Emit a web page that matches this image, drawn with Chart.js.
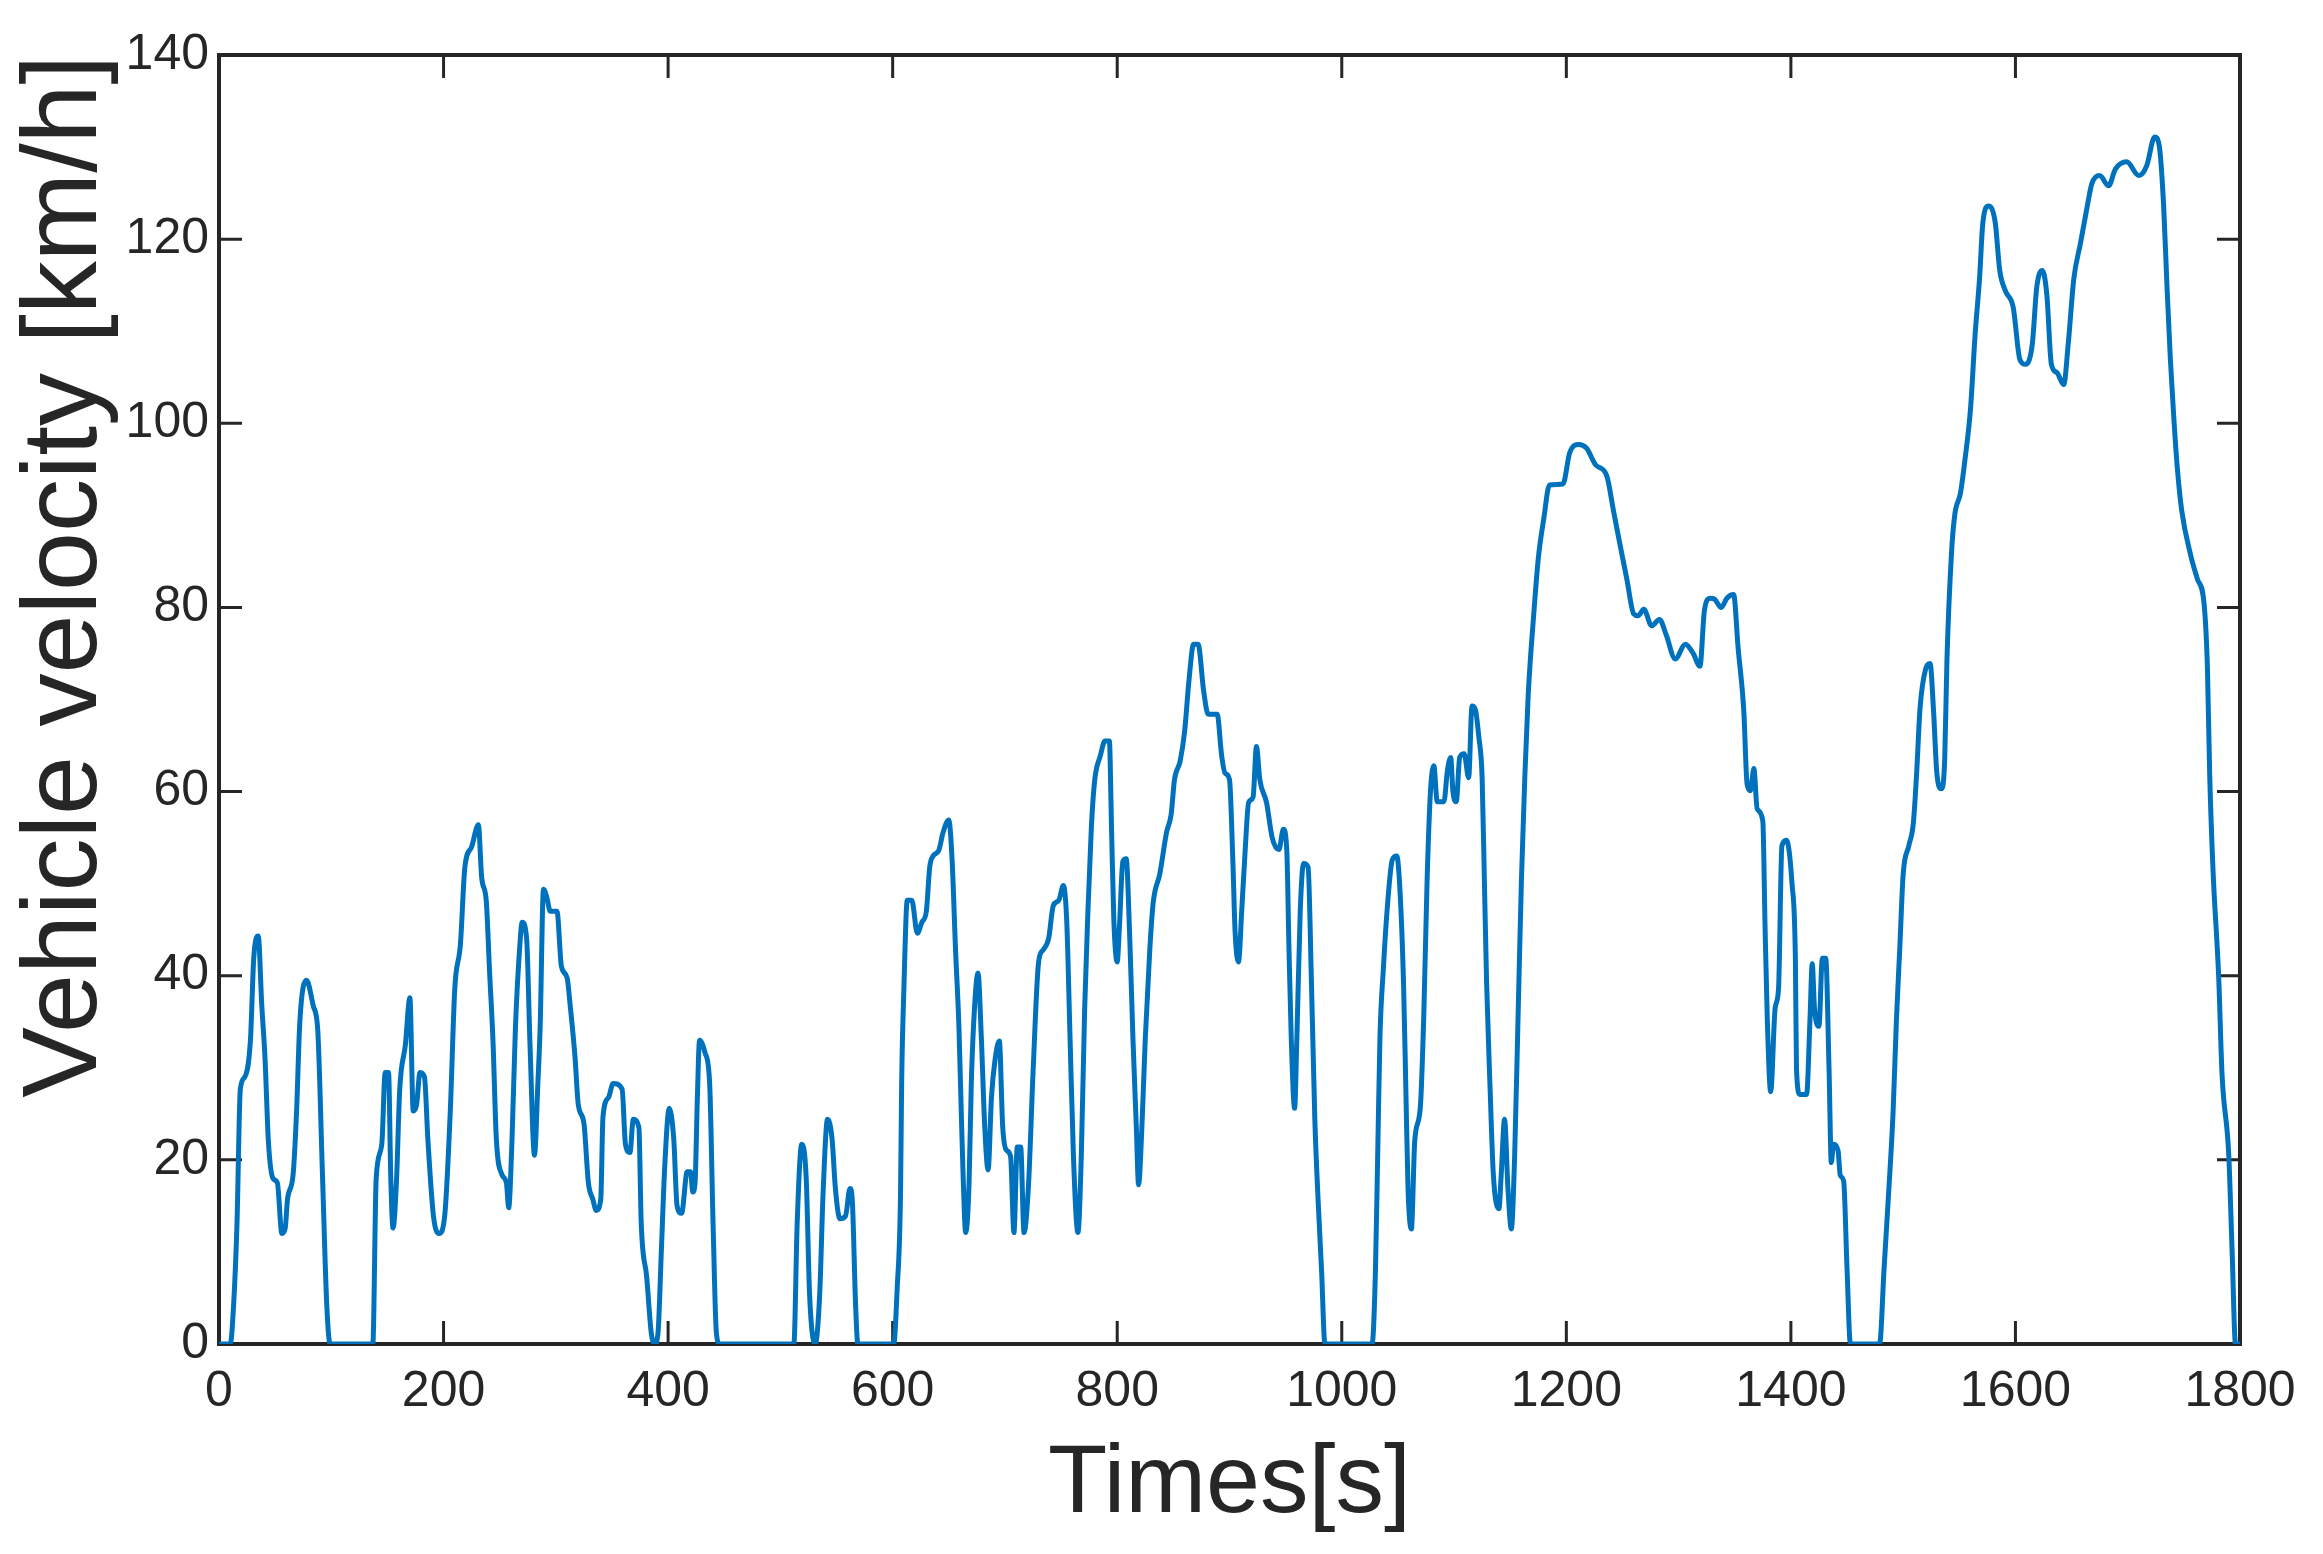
<!DOCTYPE html>
<html>
<head>
<meta charset="utf-8">
<title>Vehicle velocity</title>
<script src="https://cdn.jsdelivr.net/npm/chart.js@4/dist/chart.umd.min.js"></script>
<style>
  html, body { margin: 0; padding: 0; background: #fff; }
  canvas { display: block; }
</style>
</head>
<body>
<canvas id="chart-velocity" width="2323" height="1554"></canvas>
<script>
// Drive cycle: time [s] and speed [km/h], line by line.
const timeS = [
  0, 10, 13, 16, 19, 23, 28, 31, 35, 38,
  41, 44, 48, 52, 56, 59, 61, 66, 69, 72,
  78, 84, 88, 92, 96, 99, 137, 140, 145, 148,
  151, 153, 155, 158, 161, 166, 170, 173, 176, 179,
  183, 186, 191, 196, 201, 206, 210, 215, 219, 225,
  231, 234, 238, 241, 244, 247, 252, 256, 258, 261,
  264, 268, 270, 274, 277, 281, 284, 286, 289, 292,
  295, 301, 305, 310, 313, 317, 320, 325, 329, 333,
  336, 340, 342, 347, 351, 359, 362, 366, 369, 374,
  376, 381, 385, 388, 391, 394, 397, 401, 405, 408,
  412, 417, 420, 422, 424, 426, 428, 433, 437, 440,
  443, 446, 512, 515, 519, 523, 526, 531, 535, 538,
  542, 546, 549, 553, 558, 562, 564, 567, 569, 601,
  604, 607, 608, 610, 613, 617, 622, 626, 630, 633,
  636, 641, 645, 650, 653, 656, 659, 661, 663, 665,
  668, 670, 672, 676, 679, 682, 685, 688, 691, 695,
  698, 701, 705, 708, 711, 714, 717, 721, 725, 730,
  734, 739, 743, 748, 752, 755, 758, 761, 765, 768,
  771, 774, 777, 780, 785, 789, 793, 795, 797, 800,
  802, 805, 808, 811, 814, 817, 819, 822, 825, 829,
  832, 838, 844, 848, 851, 856, 860, 864, 868, 872,
  877, 881, 889, 893, 896, 900, 903, 905, 908, 911,
  914, 917, 921, 924, 927, 933, 938, 944, 948, 951,
  953, 955, 958, 960, 963, 966, 970, 973, 976, 979,
  982, 985, 1027, 1030, 1032, 1034, 1037, 1041, 1045, 1049,
  1052, 1055, 1057, 1059, 1062, 1065, 1070, 1073, 1076, 1079,
  1082, 1085, 1091, 1094, 1097, 1099, 1102, 1105, 1109, 1113,
  1116, 1119, 1122, 1125, 1127, 1129, 1132, 1135, 1140, 1142,
  1145, 1148, 1151, 1154, 1157, 1160, 1163, 1166, 1171, 1175,
  1180, 1185, 1197, 1203, 1211, 1218, 1226, 1236, 1242, 1248,
  1254, 1260, 1264, 1269, 1276, 1283, 1289, 1297, 1306, 1313,
  1319, 1323, 1328, 1332, 1338, 1343, 1349, 1353, 1358, 1361,
  1364, 1367, 1370, 1375, 1377, 1379, 1382, 1386, 1389, 1392,
  1396, 1401, 1404, 1405, 1408, 1414, 1417, 1419, 1421, 1425,
  1428, 1431, 1434, 1436, 1438, 1442, 1444, 1447, 1450, 1453,
  1479, 1483, 1487, 1491, 1494, 1497, 1500, 1505, 1509, 1512,
  1515, 1520, 1524, 1527, 1530, 1534, 1537, 1539, 1543, 1546,
  1551, 1555, 1560, 1564, 1568, 1571, 1576, 1582, 1586, 1591,
  1598, 1604, 1609, 1615, 1619, 1624, 1628, 1632, 1637, 1643,
  1647, 1652, 1658, 1664, 1668, 1675, 1683, 1689, 1699, 1710,
  1717, 1724, 1728, 1732, 1735, 1738, 1741, 1744, 1748, 1756,
  1762, 1768, 1771, 1773, 1776, 1781, 1784, 1790, 1793, 1796, 1800
];
const speedKmh = [
  0, 0, 4.2, 13, 27.7, 29, 33, 42, 44.3, 37,
  31, 22, 18, 17.5, 12, 12.6, 15.7, 18.4, 25, 35,
  39.5, 36.7, 34, 19, 4.2, 0, 0, 18, 21.7, 29.5,
  29.5, 18, 12.6, 17.5, 27.7, 32.5, 37.6, 25.3, 26, 29.5,
  29, 22.3, 13.9, 12, 13.9, 25.3, 38.6, 43.4, 51.8, 54,
  56.4, 50.6, 48.2, 40.4, 33, 22.3, 18.4, 17.5, 14.8, 22.3,
  34.3, 43.4, 45.8, 44, 32.5, 20.5, 28.3, 34.3, 49.4, 48.5,
  47, 47, 41, 39.8, 36.5, 31.3, 26, 24, 17.5, 15.7,
  14.5, 15.7, 24.7, 26.8, 28.3, 27.7, 21.7, 20.8, 24.4, 23.5,
  13.3, 7.2, 1.2, 0, 1.2, 10.2, 19.3, 25.6, 22.3, 15,
  14.2, 18.7, 18.7, 16.5, 17.5, 26.5, 33, 31.6, 28.3, 13.3,
  1.2, 0, 0, 13.3, 21.7, 18, 5.4, 0, 5.4, 16.3,
  24.4, 22.3, 16.9, 13.6, 13.9, 16.9, 15.7, 4.2, 0, 0,
  6, 16.3, 28.3, 38.6, 48.2, 48.2, 44.6, 45.8, 47, 51.8,
  53, 53.6, 55.6, 56.9, 52.4, 42.8, 34.5, 25.6, 17.3, 12.1,
  17.3, 28.1, 34.5, 40.3, 33.2, 23.6, 18.9, 26.8, 30.7, 32.9,
  23.6, 21.1, 20.4, 12.1, 21.4, 21.4, 12.1, 17.3, 29.4, 41.5,
  42.8, 44.1, 47.6, 48.2, 49.8, 46, 33.2, 20.4, 12.1, 20.4,
  36.4, 47.3, 56.2, 61.3, 63.9, 65.5, 65.5, 55.6, 46, 41.5,
  45.4, 52.4, 52.7, 44.7, 33.2, 23.6, 17.3, 23.6, 33.2, 42.8,
  47.9, 51.1, 55.6, 57.5, 61.3, 63.3, 66.5, 72.2, 76, 76,
  70.9, 68.4, 68.4, 63.9, 62, 61.3, 52.4, 44.7, 41.5, 47.3,
  53.7, 58.8, 59.4, 64.9, 61.3, 58.8, 55, 53.7, 55.9, 53.7,
  42.8, 33.2, 25.6, 33.2, 47, 52.2, 51.8, 39.2, 24.4, 15.4,
  8, 0, 0, 8, 20.6, 33.3, 40.7, 48.1, 52.6, 53,
  48.9, 39.2, 28.1, 16.9, 12.5, 22.1, 25.8, 35.5, 50.4, 60,
  62.8, 58.9, 58.9, 62.2, 63.7, 60, 58.9, 63.7, 64.1, 61.5,
  69.3, 68.9, 66, 61.5, 50.4, 39.2, 28.1, 18.4, 14.7, 18.4,
  24.4, 16.9, 12.5, 20.6, 35.5, 50.4, 61.5, 70.4, 79.3, 85.3,
  89.7, 93.3, 93.4, 96.8, 97.7, 97.3, 95.5, 94.3, 90.5, 86.7,
  83, 79.3, 79.1, 79.8, 78, 78.7, 77, 74.4, 76, 75,
  73.6, 79.7, 81, 80.9, 80, 81, 81.4, 75.6, 68.9, 60.8,
  60.1, 62.5, 58.1, 56.8, 45.3, 35.2, 27.4, 36.5, 38.6, 54.1,
  54.7, 50, 41.9, 29.8, 27.1, 27.1, 35.2, 41.3, 36.5, 34.5,
  41.9, 41.9, 29.8, 19.7, 21.7, 21, 18.3, 17.7, 8.2, 0,
  0, 8.2, 16.3, 25.1, 35.2, 43, 51, 54.1, 56.5, 62,
  69, 73.3, 73.9, 68.9, 62, 60.3, 63.5, 74.3, 85.8, 90.1,
  92.4, 96, 101.6, 109.5, 115.7, 121.8, 123.6, 121.8, 116.6, 114.4,
  112.6, 106.9, 106.4, 108.6, 114.8, 116.6, 113.9, 106.4, 105.5, 104.2,
  108.6, 115.7, 119.6, 123.6, 126, 126.9, 125.8, 127.6, 128.4, 126.9,
  128, 131.1, 130.2, 123.6, 114.8, 106.9, 100.7, 95.4, 90.6, 85.7,
  83.1, 80.4, 73.4, 61.9, 51.4, 39.9, 29.3, 20.5, 10, 0, 0
];

const X_MIN = 0, X_MAX = 1800, X_STEP = 200;
const Y_MIN = 0, Y_MAX = 140, Y_STEP = 20;

const INK = '#262626';
const LINE = '#0072BD';
const SANS = '"Liberation Sans", Arial, sans-serif';

/** MATLAB-style box with inward tick marks on all four sides. */
const boxTicks = {
  id: 'boxTicks',
  beforeDatasetsDraw(chart) {
    const { ctx, chartArea: a, scales: { x, y } } = chart;
    const len = 23;
    ctx.save();
    ctx.strokeStyle = INK;
    ctx.lineWidth = 3;
    ctx.beginPath();
    x.ticks.forEach(t => {
      const px = x.getPixelForValue(t.value);
      ctx.moveTo(px, a.bottom); ctx.lineTo(px, a.bottom - len);
      ctx.moveTo(px, a.top); ctx.lineTo(px, a.top + len);
    });
    y.ticks.forEach(t => {
      const py = y.getPixelForValue(t.value);
      ctx.moveTo(a.left, py); ctx.lineTo(a.left + len, py);
      ctx.moveTo(a.right, py); ctx.lineTo(a.right - len, py);
    });
    ctx.stroke();
    ctx.lineWidth = 4;
    ctx.strokeRect(a.left, a.top, a.right - a.left, a.bottom - a.top);
    ctx.restore();
  },
};

new Chart(document.getElementById('chart-velocity'), {
  type: 'line',
  data: {
    datasets: [{
      label: 'Vehicle velocity',
      data: timeS.map((t, i) => ({ x: t, y: speedKmh[i] })),
      borderColor: LINE, backgroundColor: LINE, borderWidth: 5,
      pointRadius: 0, fill: false, cubicInterpolationMode: 'monotone',
    }],
  },
  options: {
    responsive: false, devicePixelRatio: 1, animation: false,
    layout: { padding: { left: 0, top: 55, right: 83, bottom: 0 } },
    plugins: { legend: { display: false }, tooltip: { enabled: false } },
    scales: {
      x: {
        type: 'linear', min: X_MIN, max: X_MAX,
        grid: { display: false, drawTicks: false }, border: { display: false },
        ticks: { stepSize: X_STEP, autoSkip: false, maxRotation: 0, padding: 18, color: INK, font: { family: SANS, size: 50 }, callback: v => String(v) },
        title: { display: true, text: 'Times[s]', color: INK, padding: { top: 0, bottom: 20 }, font: { family: SANS, size: 97, lineHeight: 1 } },
        afterFit(s) { s.height = 210; s.paddingLeft = 0; s.paddingRight = 0; },
      },
      y: {
        min: Y_MIN, max: Y_MAX,
        grid: { display: false, drawTicks: false }, border: { display: false },
        ticks: { stepSize: Y_STEP, padding: 10, color: INK, font: { family: SANS, size: 50 }, callback: v => String(v) },
        title: { display: true, text: 'Vehicle velocity [km/h]', align: 'end', color: INK, padding: { top: 14, bottom: 0 }, font: { family: SANS, size: 106, lineHeight: 1 } },
        afterFit(s) { s.width = 219; s.paddingTop = 0; s.paddingBottom = 0; },
      },
    },
  },
  plugins: [boxTicks],
});
</script>
</body>
</html>
